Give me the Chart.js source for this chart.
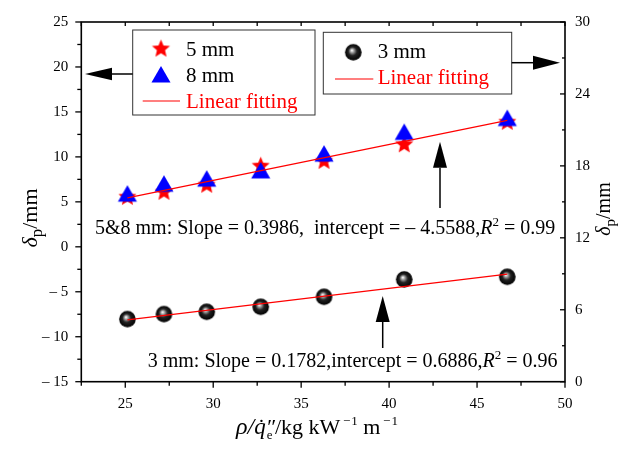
<!DOCTYPE html>
<html><head><meta charset="utf-8">
<script src="https://cdn.jsdelivr.net/npm/chart.js@4.4.0/dist/chart.umd.min.js"></script>
<style>html,body{margin:0;padding:0;background:#fff}#wrap{width:637px;height:449px}</style>
</head><body><div id="wrap"><canvas id="c" width="637" height="449"></canvas></div>
<script>
const xValues = [25.12, 27.2, 29.63, 32.7, 36.3, 40.86, 46.72];
const y5mm = [5.52, 6.08, 6.86, 8.97, 9.52, 11.36, 13.86];
const y8mm = [5.63, 6.74, 7.30, 8.22, 10.08, 12.49, 14.04];
const y3mm = [5.22, 5.64, 5.83, 6.25, 7.08, 8.53, 8.75];
const fitX = [25.12, 46.72];
const fit58 = [5.45, 14.06];
const fit3 = [5.16, 8.98];
const xTicks = [25, 30, 35, 40, 45, 50];
const leftTicks = [-15, -10, -5, 0, 5, 10, 15, 20, 25];
const rightTicks = [0, 6, 12, 18, 24, 30];
const legendLeft = ['5 mm', '8 mm', 'Linear fitting'];
const legendRight = ['3 mm', 'Linear fitting'];
const note58 = ['5&8 mm: Slope = 0.3986,  intercept = \u2013 4.5588,', 'R', '2', ' = 0.99'];
const note3 = ['3 mm: Slope = 0.1782,intercept = 0.6886,', 'R', '2', ' = 0.96'];

const SERIF = '"Liberation Serif", "Times New Roman", serif';

function makeStar(R, color) {
  const s = Math.ceil(2 * R + 2), c = document.createElement('canvas');
  c.width = c.height = s; const g = c.getContext('2d'); const cx = s / 2, cy = s / 2;
  g.beginPath();
  for (let i = 0; i < 10; i++) {
    const r = i % 2 ? R * 0.45 : R; const a = -Math.PI / 2 + i * Math.PI / 5;
    g.lineTo(cx + r * Math.cos(a), cy + r * Math.sin(a));
  }
  g.closePath(); g.fillStyle = color; g.fill(); return c;
}
function makeTri(r, color) {
  const s = Math.ceil(2 * r + 2), c = document.createElement('canvas');
  c.width = c.height = s; const g = c.getContext('2d'); const cx = s / 2, cy = s / 2;
  g.beginPath(); g.moveTo(cx, cy - r); g.lineTo(cx + 0.866 * r, cy + r / 2); g.lineTo(cx - 0.866 * r, cy + r / 2);
  g.closePath(); g.fillStyle = color; g.fill(); return c;
}
function makeBall(r) {
  const s = Math.ceil(2 * r + 2), c = document.createElement('canvas');
  c.width = c.height = s; const g = c.getContext('2d'); const cx = s / 2, cy = s / 2;
  const gr = g.createRadialGradient(cx - 1.5, cy - 2, 0.3, cx, cy, r);
  gr.addColorStop(0, '#ffffff'); gr.addColorStop(0.2, '#a0a0a0'); gr.addColorStop(0.5, '#222222'); gr.addColorStop(1, '#000000');
  g.beginPath(); g.arc(cx, cy, r, 0, Math.PI * 2); g.fillStyle = gr; g.fill(); return c;
}
const starImg = makeStar(9.5, '#ff0000');
const triImg = makeTri(11, '#0000ff');
const ballImg = makeBall(8.3);

function pts(ys) { return xValues.map((x, i) => ({ x: x, y: ys[i] })); }
function fitPts(ys) { return fitX.map((x, i) => ({ x: x, y: ys[i] })); }

function drawRuns(ctx, runs, x, y, align) {
  let w = 0;
  runs.forEach(r => { ctx.font = r.font; r.w = ctx.measureText(r.t).width; if (!r.noAdvance) w += r.w; });
  let cx = align === 'center' ? x - w / 2 : (align === 'right' ? x - w : x);
  ctx.textAlign = 'left'; ctx.textBaseline = 'alphabetic';
  runs.forEach(r => { ctx.font = r.font; ctx.fillStyle = r.color || '#000'; ctx.fillText(r.t, cx + (r.dx || 0), y + (r.dy || 0)); if (!r.noAdvance) cx += r.w; });
}
function line(ctx, x1, y1, x2, y2) { ctx.beginPath(); ctx.moveTo(x1, y1); ctx.lineTo(x2, y2); ctx.stroke(); }
function arrow(ctx, x1, y1, x2, y2, headLen, headW) {
  const a = Math.atan2(y2 - y1, x2 - x1);
  const bx = x2 - headLen * Math.cos(a), by = y2 - headLen * Math.sin(a);
  ctx.strokeStyle = '#000'; ctx.lineWidth = 1.5; line(ctx, x1, y1, bx, by);
  ctx.beginPath(); ctx.moveTo(x2, y2);
  ctx.lineTo(bx + headW / 2 * Math.sin(a), by - headW / 2 * Math.cos(a));
  ctx.lineTo(bx - headW / 2 * Math.sin(a), by + headW / 2 * Math.cos(a));
  ctx.closePath(); ctx.fillStyle = '#000'; ctx.fill();
}

const decor = {
  id: 'decor',
  afterDraw(chart) {
    const ctx = chart.ctx, a = chart.chartArea;
    const xs = chart.scales.x, yl = chart.scales.y, yr = chart.scales.y2;
    ctx.save();
    ctx.strokeStyle = '#000'; ctx.lineWidth = 1.6;
    ctx.strokeRect(a.left, a.top, a.right - a.left, a.bottom - a.top);
    ctx.lineWidth = 1.3;
    for (let v = xs.min; v <= xs.max + 1e-6; v += 2.5) {
      const p = xs.getPixelForValue(v); const major = Math.abs(v / 5 - Math.round(v / 5)) < 1e-6;
      line(ctx, p, a.bottom, p, a.bottom + (major ? 6 : 4));
      line(ctx, p, a.top, p, a.top + 4);
    }
    for (let v = yl.min; v <= yl.max + 1e-6; v += 2.5) {
      const p = yl.getPixelForValue(v); const major = Math.abs(v / 5 - Math.round(v / 5)) < 1e-6;
      line(ctx, a.left, p, a.left - (major ? 6 : 4), p);
    }
    for (let v = yr.min; v <= yr.max + 1e-6; v += 3) {
      const p = yr.getPixelForValue(v); const major = Math.abs(v / 6 - Math.round(v / 6)) < 1e-6;
      line(ctx, a.right, p, a.right - (major ? 5 : 3), p);
    }
    // legend boxes
    ctx.strokeStyle = '#333'; ctx.lineWidth = 1;
    ctx.strokeRect(132.7, 30, 182.3, 85);
    ctx.strokeRect(323.3, 32.3, 188.4, 61.7);
    ctx.drawImage(starImg, 161 - starImg.width / 2, 49 - starImg.height / 2);
    ctx.drawImage(triImg, 161 - triImg.width / 2, 77 - triImg.height / 2);
    ctx.strokeStyle = '#ff0000'; ctx.lineWidth = 1.2; line(ctx, 142.7, 101, 180, 101);
    ctx.drawImage(ballImg, 353.3 - ballImg.width / 2, 52.3 - ballImg.height / 2);
    line(ctx, 335, 79, 373.3, 79);
    ctx.font = '21px ' + SERIF; ctx.textAlign = 'left'; ctx.textBaseline = 'alphabetic';
    ctx.fillStyle = '#000'; ctx.fillText(legendLeft[0], 186, 55.5); ctx.fillText(legendLeft[1], 186, 81.7);
    ctx.fillStyle = '#ff0000'; ctx.fillText(legendLeft[2], 186, 107.7);
    ctx.fillStyle = '#000'; ctx.fillText(legendRight[0], 377.7, 58.3);
    ctx.fillStyle = '#ff0000'; ctx.fillText(legendRight[1], 377.7, 84);
    // arrows
    arrow(ctx, 132.7, 74, 85, 74, 27, 12.5);
    arrow(ctx, 511.7, 62.7, 560, 62.7, 27, 14);
    arrow(ctx, 440, 208, 440, 141.7, 26, 14);
    arrow(ctx, 382.7, 348, 382.7, 296, 26, 14);
    // notes
    const nf = '20px ' + SERIF, nfi = 'italic 20px ' + SERIF, nfs = '13px ' + SERIF;
    drawRuns(ctx, [{ t: note58[0], font: nf }, { t: note58[1], font: nfi }, { t: note58[2], font: nfs, dy: -8 }, { t: note58[3], font: nf }], 95, 234, 'left');
    drawRuns(ctx, [{ t: note3[0], font: nf }, { t: note3[1], font: nfi }, { t: note3[2], font: nfs, dy: -8 }, { t: note3[3], font: nf }], 557.5, 367, 'right');
    // axis titles
    const yTitle = (fs, ss) => [{ t: '\u03b4', font: 'italic ' + fs + 'px ' + SERIF }, { t: 'p', font: ss + 'px ' + SERIF, dy: 5 }, { t: '/mm', font: fs + 'px ' + SERIF }];
    ctx.save(); ctx.translate(37, 218); ctx.rotate(-Math.PI / 2); drawRuns(ctx, yTitle(22, 17), 0, 0, 'center'); ctx.restore();
    ctx.save(); ctx.translate(610, 209); ctx.rotate(-Math.PI / 2); drawRuns(ctx, yTitle(20, 15), 0, 0, 'center'); ctx.restore();
    // x title
    const F = 22, f = (s, it) => (it ? 'italic ' : '') + s + 'px ' + SERIF;
    const runs = [
      { t: '\u03c1', font: f(F + 2, true) }, { t: '/', font: f(F + 2, true) }, { t: 'q', font: f(F + 1, true) },
      { t: '\u02d9', font: f(F), dx: -8, dy: 0, noAdvance: true },
      { t: 'e', font: f(13), dy: 5, noAdvance: true, dx: 1 },
      { t: '\u2033', font: f(F, true) }, { t: '/kg kW', font: f(F) }, { t: '\u2009\u2212\u200a1', font: f(13), dy: -9 },
      { t: ' m', font: f(F) }, { t: '\u2009\u2212\u200a1', font: f(13), dy: -9 }
    ];
    drawRuns(ctx, runs, 317, 434, 'center');
    ctx.restore();
  }
};

const tickFont = { family: SERIF, size: 15 };
new Chart(document.getElementById('c'), {
  type: 'scatter',
  data: {
    datasets: [
      { label: 'fit 5&8', data: fitPts(fit58), showLine: true, borderColor: '#ff0000', borderWidth: 1.2, pointRadius: 0, yAxisID: 'y', order: 0 },
      { label: 'fit 3', data: fitPts(fit3), showLine: true, borderColor: '#ff0000', borderWidth: 1.2, pointRadius: 0, yAxisID: 'y2', order: 0 },
      { label: legendLeft[1], data: pts(y8mm), pointStyle: triImg, pointRadius: 11, yAxisID: 'y', order: 1 },
      { label: legendLeft[0], data: pts(y5mm), pointStyle: starImg, pointRadius: 10, yAxisID: 'y', order: 2 },
      { label: legendRight[0], data: pts(y3mm), pointStyle: ballImg, pointRadius: 9, yAxisID: 'y2', order: 2 }
    ]
  },
  options: {
    responsive: false, animation: false, devicePixelRatio: 1,
    layout: { padding: { top: 21.7, left: 0, right: 0, bottom: 0 } },
    plugins: { legend: { display: false }, tooltip: { enabled: false } },
    scales: {
      x: {
        type: 'linear', position: 'bottom', min: 22.5, max: 50,
        afterBuildTicks: s => { s.ticks = xTicks.map(v => ({ value: v })); },
        afterFit: s => { s.height = 449 - 381.7; },
        ticks: { font: tickFont, color: '#000', padding: 13, maxRotation: 0, autoSkip: false },
        grid: { display: false, drawTicks: false }, border: { display: false }
      },
      y: {
        position: 'left', min: -15, max: 25,
        afterBuildTicks: s => { s.ticks = leftTicks.map(v => ({ value: v })); },
        afterFit: s => { s.width = 81.3; },
        ticks: { font: tickFont, color: '#000', padding: 13, callback: v => v < 0 ? '\u2013 ' + Math.abs(v) : String(v) },
        grid: { display: false, drawTicks: false }, border: { display: false }
      },
      y2: {
        position: 'right', min: 0, max: 30,
        afterBuildTicks: s => { s.ticks = rightTicks.map(v => ({ value: v })); },
        afterFit: s => { s.width = 72; },
        ticks: { font: tickFont, color: '#000', padding: 10 },
        grid: { display: false, drawTicks: false }, border: { display: false }
      }
    }
  },
  plugins: [decor]
});
</script></body></html>
